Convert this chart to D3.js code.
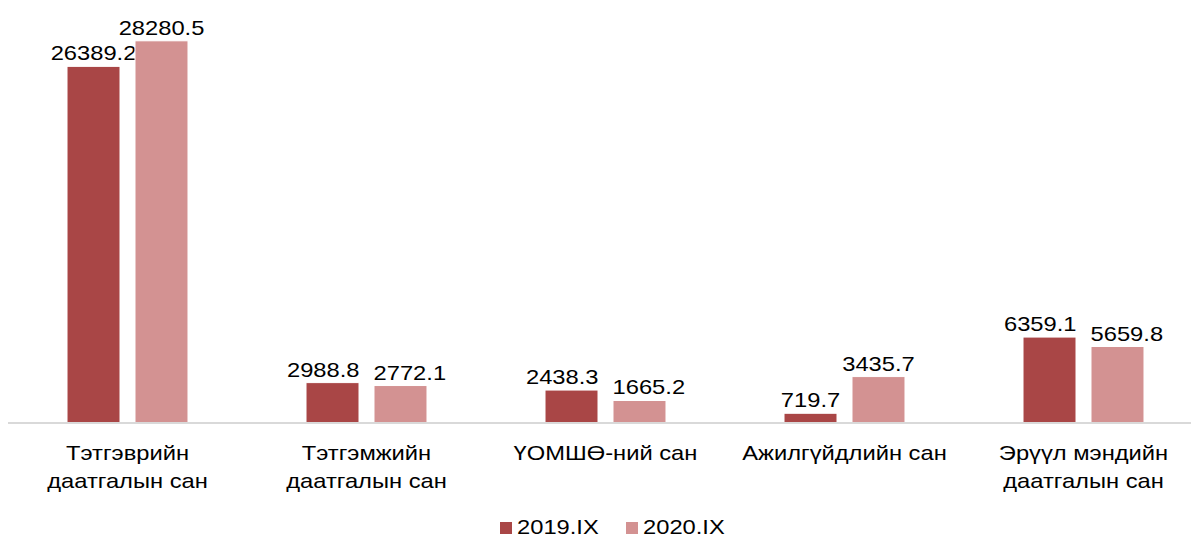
<!DOCTYPE html>
<meta charset="utf-8">
<style>
  body { margin: 0; background: #fff; }
  svg text { font-family: Arial, "Liberation Sans", sans-serif; fill: #000; }
  .value-label, .cat-label, .legend-label { font-size: 21px; }
  .domain-line { stroke: #d9d9d9; stroke-width: 2px; }
  .bar { stroke: #fff; stroke-width: 1px; }
</style>
<body>
<div id="vis"></div>
<script src="https://cdn.jsdelivr.net/npm/d3@7"></script>
<script>

const categories = ['Тэтгэврийн\nдаатгалын сан', 'Тэтгэмжийн\nдаатгалын сан', 'ҮОМШӨ-ний сан', 'Ажилгүйдлийн сан', 'Эрүүл мэндийн\nдаатгалын сан'];
const series = ['2019.IX', '2020.IX'];
const values2019 = [26389.2, 2988.8, 2438.3, 719.7, 6359.1];
const values2020 = [28280.5, 2772.1, 1665.2, 3435.7, 5659.8];
const colors = ['#a94646', '#d39292'];

const width = 1191,
    height = 538;
const sx = 1.13;
const stretch = 'scale(' + sx + ',1)';

let data = categories.map((c, i) => ({cat: c, values: [values2019[i], values2020[i]]}));

let x0 = d3.scaleBand().domain(categories).range([8, 1203]).padding(0);
let x1 = d3.scaleBand().domain(series).range([0, x0.bandwidth()])
    .paddingInner(0.2206).paddingOuter(0.868);
let y = d3.scaleLinear().domain([0, 31300]).range([423, 0]);
let fmt = d3.format('.1f');

let svg = d3.select('#vis').append('svg')
    .attr('width', width)
    .attr('height', height);

let groups = svg.selectAll('.cat-group')
    .data(data)
    .enter().append('g')
    .attr('class', 'cat-group')
    .attr('transform', d => 'translate(' + x0(d.cat) + ',0)');

let bars = groups.selectAll('.bar-g')
    .data(d => d.values.map((v, k) => ({key: series[k], k: k, value: v})))
    .enter().append('g')
    .attr('class', 'bar-g');

bars.append('rect')
    .attr('class', 'bar')
    .attr('x', d => x1(d.key))
    .attr('y', d => y(d.value))
    .attr('width', x1.bandwidth())
    .attr('height', d => y(0) - y(d.value))
    .attr('fill', d => colors[d.k]);

bars.append('text')
    .attr('class', 'value-label')
    .attr('text-anchor', 'middle')
    .text(d => fmt(d.value))
    .each(function(d) {
      d.cx = x1(d.key) + x1.bandwidth() / 2;
      d.by = y(d.value) - 6;
      d.w = this.getComputedTextLength() * sx;
    });

// push the two labels of a group apart when they would collide
groups.each(function() {
  let labs = d3.select(this).selectAll('.value-label').data();
  let a = labs[0], b = labs[1];
  let gap = (b.cx - b.w / 2) - (a.cx + a.w / 2);
  if (Math.abs(a.by - b.by) < 20 && gap < 14) {
    let s = (14 - gap) / 2;
    a.cx -= s;
    b.cx += s;
  }
});
bars.selectAll('.value-label')
    .attr('transform', d => 'translate(' + [d.cx, d.by] + ') ' + stretch);

svg.append('line')
    .attr('class', 'domain-line')
    .attr('x1', 8)
    .attr('x2', width)
    .attr('y1', y(0))
    .attr('y2', y(0));

// category labels, wrapped on \n
let xAxis = svg.append('g')
    .attr('transform', 'translate(0,' + y(0) + ')')
    .call(d3.axisBottom(x0).tickSize(0).tickFormat(''));
xAxis.select('.domain').remove();
xAxis.selectAll('.tick').each(function(d) {
  let t = d3.select(this).append('text')
      .attr('class', 'cat-label')
      .attr('text-anchor', 'middle')
      .attr('transform', 'translate(0,37) ' + stretch);
  d.split('\n').forEach((line, i) => {
    t.append('tspan')
      .attr('x', 0)
      .attr('dy', i ? 28 : 0)
      .text(line);
  });
});

// legend
let legend = svg.append('g')
    .attr('transform', 'translate(500,522)');
let item = legend.selectAll('.legend-item')
    .data(series)
    .enter().append('g')
    .attr('class', 'legend-item')
    .attr('transform', (d, i) => 'translate(' + (i * 126) + ',0)');
item.append('rect')
    .attr('width', 12)
    .attr('height', 12)
    .attr('fill', (d, i) => colors[i]);
item.append('text')
    .attr('class', 'legend-label')
    .attr('transform', 'translate(17,12) ' + stretch)
    .text(d => d);

</script>
</body>
